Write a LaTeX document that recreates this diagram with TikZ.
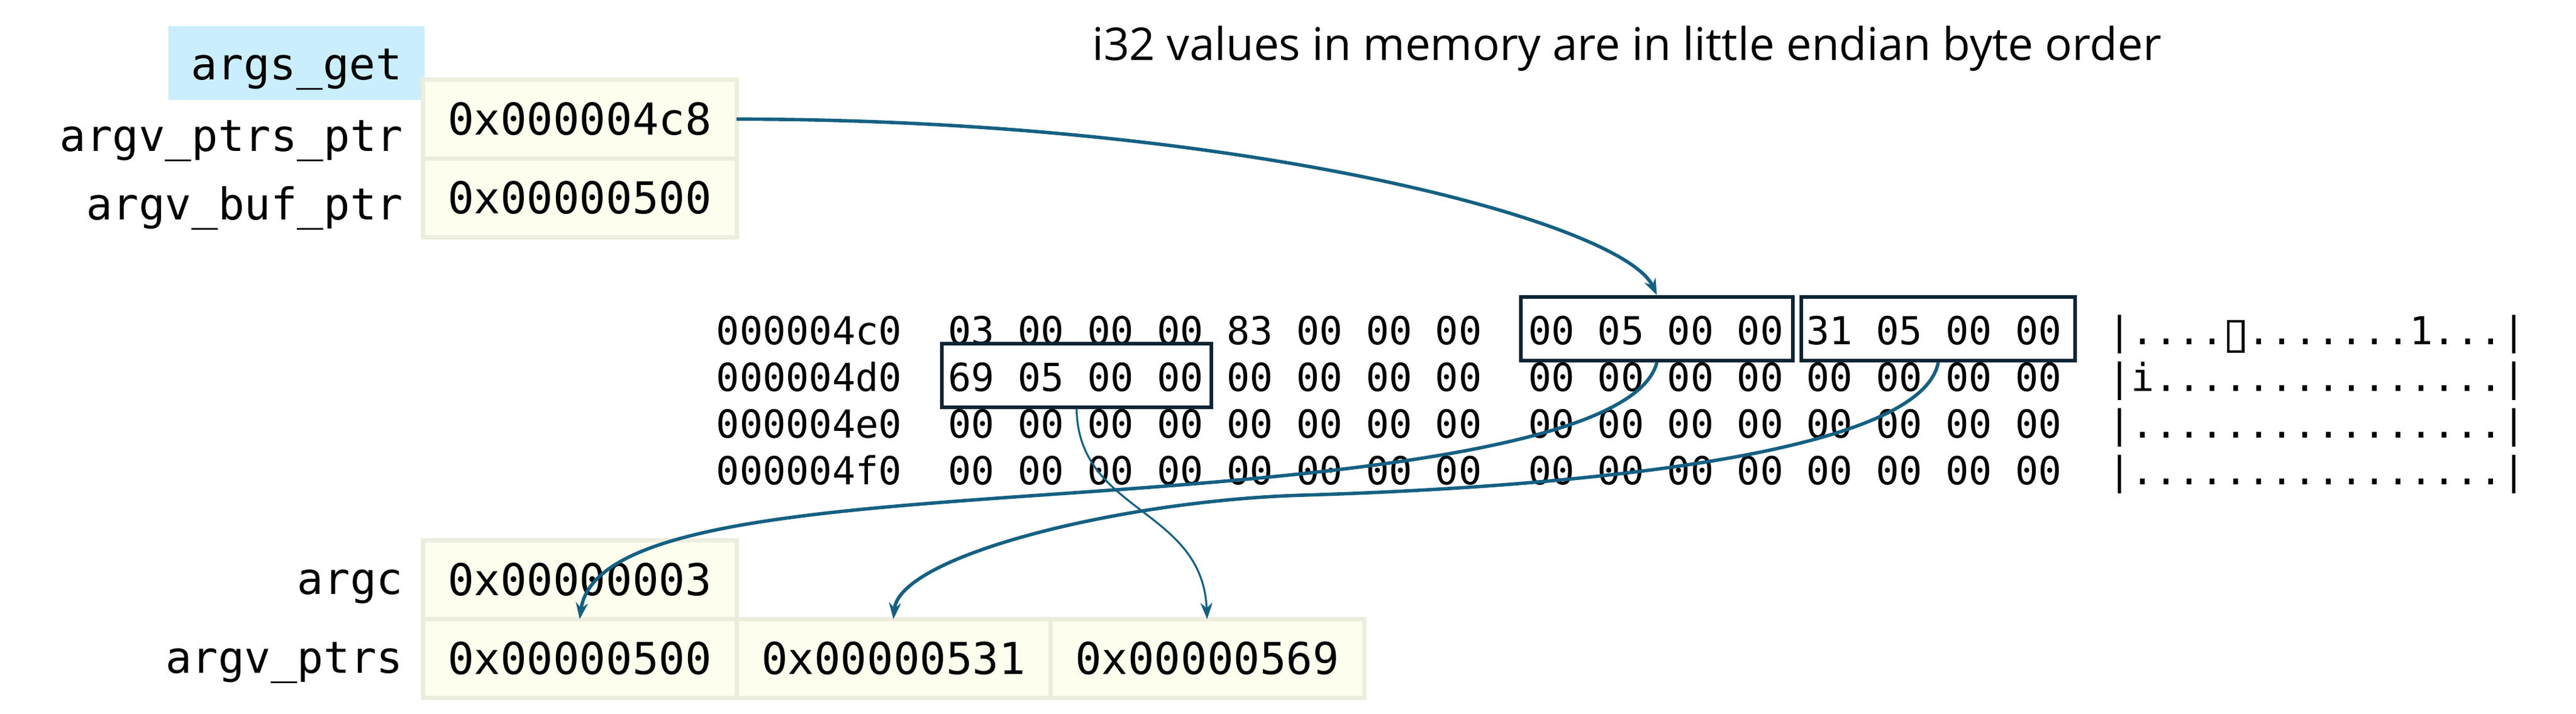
\documentclass[tikz,border=0pt]{standalone}
\usepackage{fontspec}
\setmonofont{DejaVu Sans Mono}
\newfontfamily\titlefont{Open Sans}
\usetikzlibrary{positioning,arrows.meta}

\definecolor{ptrblue}{HTML}{156082}
\definecolor{boxnavy}{HTML}{0B2535}
\definecolor{cellfill}{HTML}{FDFEEE}
\definecolor{cellline}{HTML}{ECEDDC}
\definecolor{fnfill}{HTML}{CAEEFB}

% unprintable byte in the dump
\newcommand\tofubox{\makebox[0.602em]{\raisebox{-0.15em}{\fboxsep=0pt\fboxrule=0.07em\fbox{\rule{0pt}{0.71em}\rule{0.31em}{0pt}}}}}

\begin{document}
\begin{tikzpicture}[
    cell/.style={draw=cellline, fill=cellfill, line width=0.07cm, minimum width=5.18cm,
      minimum height=1.30cm, inner sep=0pt, outer sep=0pt, font=\ttfamily\fontsize{20.6}{24}\selectfont},
    lbl/.style={anchor=base east, inner sep=0pt, font=\ttfamily\fontsize{20.6}{24}\selectfont},
    hexrow/.style={anchor=base west, inner sep=0pt, font=\ttfamily\fontsize{18.1}{22}\selectfont},
    membox/.style={draw=boxnavy, line width=0.06cm, minimum width=4.49cm, minimum height=1.05cm, inner sep=0pt},
    ptr/.style={draw=ptrblue, line width=1.6pt, -{Stealth[length=0.27cm, width=0.2cm]}}
  ]
        \useasboundingbox (0,0) rectangle (42.53,11.77);

        % Title
        \node (title) at (26.86,10.77) [anchor=base, inner sep=0pt, font=\titlefont\fontsize{21.2}{25}\selectfont]
          {i32 values in memory are in little endian byte order};

        % args_get parameters
        \node (argsget) at (4.895,10.73) [fill=fnfill, minimum width=4.23cm, minimum height=1.22cm,
          text height=0.73cm, text depth=0.17cm, inner sep=0pt, font=\ttfamily\fontsize{20.6}{24}\selectfont] {args\_get};
        \node (ptrsptr) at (9.57,9.805) [cell] {0x000004c8};
        \node (bufptr) [cell, below=0pt of ptrsptr] {0x00000500};
        \node (lptrsptr) at (6.66,9.27) [lbl] {argv\_ptrs\_ptr};
        \node (lbufptr) at (6.66,8.14) [lbl] {argv\_buf\_ptr};

        % Memory dump
        \node (row0) at (11.82,6.09) [hexrow] {000004c0~ 03 00 00 00 83 00 00 00~ 00 05 00 00 31 05 00 00~ |....\tofubox.......1...|};
        \node (row1) at (11.82,5.32) [hexrow] {000004d0~ 69 05 00 00 00 00 00 00~ 00 00 00 00 00 00 00 00~ |i...............|};
        \node (row2) at (11.82,4.55) [hexrow] {000004e0~ 00 00 00 00 00 00 00 00~ 00 00 00 00 00 00 00 00~ |................|};
        \node (row3) at (11.82,3.78) [hexrow] {000004f0~ 00 00 00 00 00 00 00 00~ 00 00 00 00 00 00 00 00~ |................|};

        \node (ptr0) at (27.355,6.345) [membox] {};
        \node (ptr1) at (32.0,6.345) [membox, minimum width=4.52cm] {};
        \node (ptr2) at (17.775,5.58) [membox, minimum width=4.45cm] {};

        % argc and argv_ptrs
        \node (argc) at (9.57,2.205) [cell] {0x00000003};
        \node (argv0) [cell, below=0pt of argc] {0x00000500};
        \node (argv1) [cell, right=0pt of argv0] {0x00000531};
        \node (argv2) [cell, right=0pt of argv1] {0x00000569};
        \node (largc) at (6.66,1.97) [lbl] {argc};
        \node (largv) at (6.66,0.67) [lbl] {argv\_ptrs};

        % Pointers
        \draw[ptr] (ptrsptr.east) .. controls (20.5,9.80) and (26.8,8.1) .. (ptr0.north);
        \draw[ptr] (ptr0.south) .. controls (27.0,4.4) and (22.0,3.95) .. (18.44,3.69)
          .. controls (14.0,3.37) and (9.8,3.2) .. (argv0.north);
        \draw[ptr] (ptr1.south) .. controls (31.7,4.2) and (25.5,3.72) .. (21.5,3.60)
          .. controls (18.5,3.51) and (14.85,2.6) .. (argv1.north);
        \draw[ptr, line width=0.9pt] (ptr2.south) .. controls (17.8,3.3) and (19.85,3.4) .. (argv2.north);
\end{tikzpicture}
\end{document}
